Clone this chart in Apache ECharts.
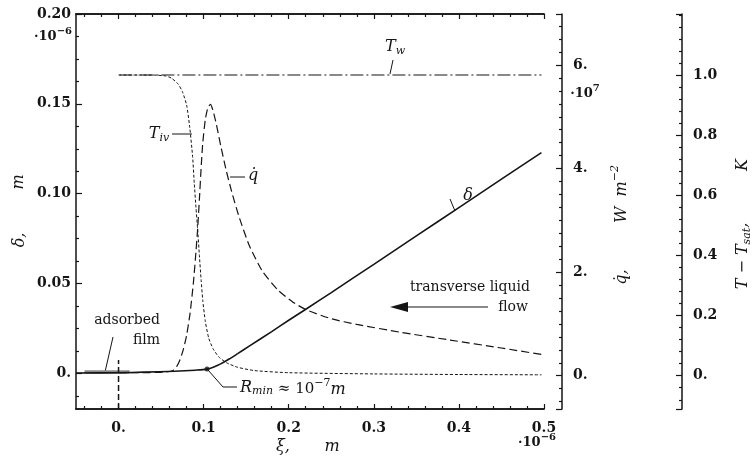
<!DOCTYPE html>
<html><head><meta charset="utf-8">
<script src="https://cdn.jsdelivr.net/npm/echarts@6/dist/echarts.min.js"></script>
<style>html,body{margin:0;padding:0;background:#fff}#c{width:752px;height:461px}</style>
</head><body><div id="c"></div>
<script>
// ---------- data ----------
const deltaXi  = [-0.05, 0, 0.03, 0.066, 0.09, 0.104, 0.112, 0.12, 0.13, 0.14, 0.154, 0.18, 0.2, 0.221, 0.25, 0.3, 0.35, 0.4, 0.45, 0.497];
const deltaVal = [0.0002, 0.0004, 0.0007, 0.0012, 0.0018, 0.0024, 0.0036, 0.0053, 0.0080, 0.0110, 0.0153, 0.0233, 0.0296, 0.0360, 0.0450, 0.0607, 0.0765, 0.0923, 0.1081, 0.1229];

const qXi  = [0, 0.03, 0.055, 0.064, 0.068, 0.072, 0.076, 0.08, 0.084, 0.088, 0.091, 0.093, 0.095, 0.097, 0.099, 0.102, 0.105, 0.108, 0.111, 0.115, 0.12, 0.126, 0.133, 0.142, 0.154, 0.169, 0.187, 0.205, 0.221, 0.25, 0.28, 0.331, 0.389, 0.448, 0.497];
const qVal = [0.06, 0.06, 0.07, 0.1, 0.17, 0.3, 0.5, 0.78, 1.2, 1.8, 2.4, 2.85, 3.4, 4.0, 4.5, 4.95, 5.18, 5.24, 5.12, 4.85, 4.45, 4.0, 3.55, 3.05, 2.5, 2.02, 1.66, 1.42, 1.27, 1.10, 0.99, 0.84, 0.69, 0.54, 0.41];

const tivXi  = [0, 0.04, 0.055, 0.062, 0.07, 0.075, 0.08, 0.0835, 0.087, 0.089, 0.091, 0.093, 0.095, 0.097, 0.099, 0.102, 0.106, 0.111, 0.118, 0.127, 0.14, 0.16, 0.2, 0.3, 0.4, 0.497];
const tivVal = [1.0, 1.0, 0.997, 0.99, 0.97, 0.945, 0.9, 0.83, 0.73, 0.64, 0.56, 0.485, 0.40, 0.32, 0.25, 0.18, 0.125, 0.09, 0.062, 0.043, 0.028, 0.017, 0.01, 0.006, 0.004, 0.003];

const twXi  = [0.001, 0.497];
const twVal = [1.0, 1.0];

const filmXi  = [-0.04, 0.013];
const filmVal = [0.0008, 0.0008];

const wallXi  = [0, 0];
const wallVal = [-0.0198, 0.0075];

const rminXi  = [0.104];
const rminVal = [0.0024];

// ---------- axes / ticks ----------
const xRange = [-0.05, 0.5];
const xMajor = [0, 0.1, 0.2, 0.3, 0.4, 0.5];
const xMajorLabels = ['0.', '0.1', '0.2', '0.3', '0.4', '0.5'];
const xMinor = [-0.04, -0.02, 0.02, 0.04, 0.06, 0.08, 0.12, 0.14, 0.16, 0.18, 0.22, 0.24, 0.26, 0.28, 0.32, 0.34, 0.36, 0.38, 0.42, 0.44, 0.46, 0.48];

const dRange = [-0.0198, 0.2];
const dMajor = [0, 0.05, 0.1, 0.15, 0.2];
const dMajorLabels = ['0.', '0.05', '0.10', '0.15', '0.20'];
const dMinor = [-0.0125, 0.0125, 0.025, 0.0375, 0.0625, 0.075, 0.0875, 0.1125, 0.125, 0.1375, 0.1625, 0.175, 0.1875];

const qRange = [-0.643, 6.985];
const qMajor = [0, 2, 4, 6];
const qMajorLabels = ['0.', '2.', '4.', '6.'];
const qMinor = [-0.5, -0.25, 0.25, 0.5, 0.75, 1, 1.25, 1.5, 1.75, 2.25, 2.5, 2.75, 3, 3.25, 3.5, 3.75, 4.25, 4.5, 4.75, 5, 5.25, 5.5, 5.75, 6.25, 6.5, 6.75];

const tRange = [-0.1107, 1.203];
const tMajor = [0, 0.2, 0.4, 0.6, 0.8, 1.0];
const tMajorLabels = ['0.', '0.2', '0.4', '0.6', '0.8', '1.0'];
const tMinor = [-0.08, -0.04, 0.04, 0.08, 0.12, 0.16, 0.24, 0.28, 0.32, 0.36, 0.44, 0.48, 0.52, 0.56, 0.64, 0.68, 0.72, 0.76, 0.84, 0.88, 0.92, 0.96, 1.04, 1.08, 1.12, 1.16, 1.2];

// ---------- build ----------
const zip = (a, b) => a.map((v, i) => [v, b[i]]);
const INK = '#151515';
const SERIF = 'DejaVu Serif';
const lbl = (vals, labs) => v => { const i = vals.findIndex(t => Math.abs(t - v) < 1e-9); return i >= 0 ? labs[i] : ''; };
const tickFont = { fontFamily: SERIF, fontWeight: 'bold', fontSize: 14, color: INK };

function xAx(pos, ticks, len, labels) {
  return {
    type: 'value', position: pos, min: xRange[0], max: xRange[1],
    axisLine: { show: true, onZero: false, lineStyle: { color: INK, width: 1.5 } },
    axisTick: { show: true, inside: true, length: len, customValues: ticks, lineStyle: { color: INK, width: 1.2 } },
    axisLabel: labels ? Object.assign({ show: true, customValues: xMajor, formatter: lbl(xMajor, xMajorLabels), margin: 12 }, tickFont) : { show: false },
    splitLine: { show: false }
  };
}
function yAx(pos, offset, range, ticks, len, labelVals, labelTexts, margin, showLine) {
  return {
    type: 'value', position: pos, offset: offset, min: range[0], max: range[1],
    axisLine: { show: showLine, onZero: false, lineStyle: { color: INK, width: 1.5 } },
    axisTick: { show: true, inside: true, length: len, customValues: ticks, lineStyle: { color: INK, width: 1.2 } },
    axisLabel: labelVals ? Object.assign({ show: true, customValues: labelVals, formatter: lbl(labelVals, labelTexts), margin: margin }, tickFont) : { show: false },
    splitLine: { show: false }
  };
}

const RICH = {
  m:  { fontFamily: SERIF, fontStyle: 'italic', fontSize: 16, fill: INK },
  s:  { fontFamily: SERIF, fontStyle: 'italic', fontSize: 11, fill: INK, verticalAlign: 'top', padding: [8, 0, 0, 0] },
  mp: { fontFamily: SERIF, fontStyle: 'italic', fontSize: 16, fill: INK, verticalAlign: 'top', padding: [4, 0, 0, 0] },
  sp: { fontFamily: SERIF, fontStyle: 'italic', fontSize: 11, fill: INK, verticalAlign: 'top' },
  up: { fontFamily: SERIF, fontSize: 15, fill: INK, verticalAlign: 'top', padding: [4, 0, 0, 0] },
  usp:{ fontFamily: SERIF, fontSize: 11, fill: INK, verticalAlign: 'top' },
  bp: { fontFamily: SERIF, fontWeight: 'bold', fontSize: 13, fill: INK, verticalAlign: 'top', padding: [4, 0, 0, 0] },
  bsp:{ fontFamily: SERIF, fontWeight: 'bold', fontSize: 10, fill: INK, verticalAlign: 'top' }
};
function T(x, y, text, extra, rot) {
  return { type: 'text', x: x, y: y, rotation: rot || 0, silent: true,
    style: Object.assign({ text: text, x: 0, y: 0, fill: INK, fontFamily: SERIF, fontSize: 14, align: 'center', verticalAlign: 'middle' }, extra || {}) };
}
function R(x, y, text, align, rot) {
  return { type: 'text', x: x, y: y, rotation: rot || 0, silent: true,
    style: { text: text, x: 0, y: 0, fill: INK, align: align || 'center', verticalAlign: 'middle', rich: RICH } };
}
function L(x1, y1, x2, y2, w) {
  return { type: 'line', silent: true, shape: { x1, y1, x2, y2 }, style: { stroke: INK, lineWidth: w || 1 } };
}

const chart = echarts.init(document.getElementById('c'), null, { renderer: 'canvas' });
chart.setOption({
  animation: false,
  backgroundColor: '#fff',
  grid: { left: 76, right: 208, top: 14, bottom: 52, containLabel: false },
  xAxis: [
    xAx('bottom', xMajor, 5, true),
    xAx('bottom', xMinor, 3, false),
    xAx('top', xMajor, 5, false),
    xAx('top', xMinor, 3, false)
  ],
  yAxis: [
    yAx('left', 0, dRange, dMajor, 6, dMajor, dMajorLabels, 5, true),
    yAx('left', 0, dRange, dMinor, 3, null, null, 0, false),
    yAx('right', 18, qRange, [qRange[0]].concat(qMajor, [qRange[1]]), 6, qMajor, qMajorLabels, 11, true),
    yAx('right', 18, qRange, qMinor, 3, null, null, 0, false),
    yAx('right', 138, tRange, [tRange[0]].concat(tMajor, [tRange[1]]), 6, tMajor, tMajorLabels, 11, true),
    yAx('right', 138, tRange, tMinor, 3, null, null, 0, false)
  ],
  series: [
    { name: 'film', type: 'line', xAxisIndex: 0, yAxisIndex: 0, data: zip(filmXi, filmVal), showSymbol: false,
      lineStyle: { color: '#8a8a8a', width: 3.5 }, z: 1 },
    { name: 'Tw', type: 'line', xAxisIndex: 0, yAxisIndex: 4, data: zip(twXi, twVal), showSymbol: false,
      lineStyle: { color: INK, width: 1.1, type: [13, 3, 2, 3] } },
    { name: 'Tiv', type: 'line', xAxisIndex: 0, yAxisIndex: 4, data: zip(tivXi, tivVal), showSymbol: false, smooth: 0.2,
      lineStyle: { color: INK, width: 1, type: [3, 2] } },
    { name: 'q', type: 'line', xAxisIndex: 0, yAxisIndex: 2, data: zip(qXi, qVal), showSymbol: false, smooth: 0.2,
      lineStyle: { color: INK, width: 1.2, type: [8, 4] } },
    { name: 'delta', type: 'line', xAxisIndex: 0, yAxisIndex: 0, data: zip(deltaXi, deltaVal), showSymbol: false, smooth: 0.3,
      lineStyle: { color: INK, width: 1.6 } },
    { name: 'wall', type: 'line', xAxisIndex: 0, yAxisIndex: 0, data: zip(wallXi, wallVal), showSymbol: false,
      lineStyle: { color: INK, width: 1.5, type: [6, 3] } },
    { name: 'rmin', type: 'scatter', xAxisIndex: 0, yAxisIndex: 0, data: zip(rminXi, rminVal), symbolSize: 5,
      itemStyle: { color: INK } }
  ],
  graphic: [
    // exponent notes
    R(53, 35, '{bp|·10}{bsp|−6}'),
    R(537, 441, '{bp|·10}{bsp|−6}'),
    R(585, 92, '{bp|·10}{bsp|7}'),
    // axis titles
    T(283, 447, 'ξ,', { fontStyle: 'italic', fontSize: 16 }),
    T(332, 447, 'm', { fontStyle: 'italic', fontSize: 16 }),
    T(20, 240, 'δ,', { fontStyle: 'italic', fontSize: 16 }, Math.PI / 2),
    T(19, 182, 'm', { fontStyle: 'italic', fontSize: 16 }, Math.PI / 2),
    T(622, 277, 'q̇,', { fontStyle: 'italic', fontSize: 16 }, Math.PI / 2),
    R(620, 194, '{mp|W  m}{sp|−2}', 'center', Math.PI / 2),
    R(743, 256, '{m|T − T}{s|sat}{m|,}', 'center', Math.PI / 2),
    T(743, 165, 'K', { fontStyle: 'italic', fontSize: 16 }, Math.PI / 2),
    // curve labels
    R(395, 47, '{m|T}{s|w}'),
    L(393, 60, 390, 74),
    R(159, 134, '{m|T}{s|iv}'),
    L(172, 134, 192, 134),
    T(253, 176, 'q̇', { fontStyle: 'italic', fontSize: 16 }),
    L(230, 177, 245, 177),
    T(468, 196, 'δ', { fontStyle: 'italic', fontSize: 16 }),
    L(450, 199, 455, 211),
    // R_min
    L(208, 370, 223, 387),
    L(223, 387, 237, 387),
    R(240, 388, '{m|R}{s|min}{up| ≈ 10}{usp|−7}{mp|m}', 'left'),
    // adsorbed film
    T(160, 320, 'adsorbed', { align: 'right' }),
    T(160, 340, 'film', { align: 'right' }),
    L(113, 337, 105, 372),
    // transverse liquid flow
    T(530, 287, 'transverse liquid', { align: 'right' }),
    T(528, 307, 'flow', { align: 'right' }),
    L(488, 307, 405, 307),
    { type: 'polygon', silent: true, shape: { points: [[390, 307], [408, 302], [408, 312]] }, style: { fill: INK } }
  ]
});
</script></body></html>
